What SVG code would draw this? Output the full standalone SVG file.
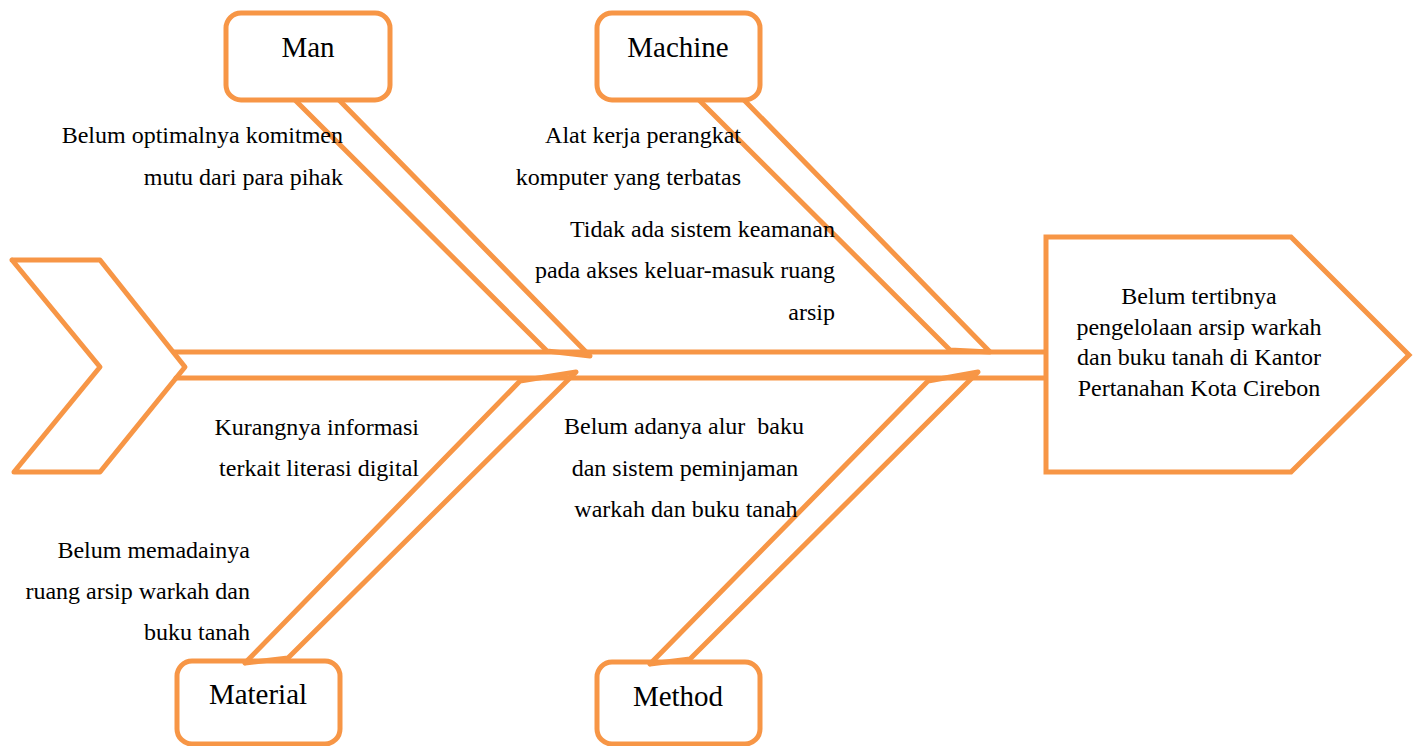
<svg xmlns="http://www.w3.org/2000/svg" width="1417" height="746" viewBox="0 0 1417 746">
<style>
.s{fill:none;stroke:#F79646;stroke-width:5;stroke-linejoin:round;stroke-linecap:round}
.b{fill:#FFFFFF;stroke:#F79646;stroke-width:5}
.t{font-family:"Liberation Serif","Times New Roman",serif;font-size:24px;fill:#000}
.l{font-family:"Liberation Serif","Times New Roman",serif;font-size:29px;fill:#000;text-anchor:middle}
.r{text-anchor:end}
.m{text-anchor:middle}
</style>
<rect width="1417" height="746" fill="#FFFFFF"/>
<g id="man">
<rect class="b" x="226" y="13" width="164" height="87" rx="15"/>
<text class="l" x="308" y="57">Man</text>
</g>
<g id="machine">
<rect class="b" x="597" y="13" width="163" height="87" rx="15"/>
<text class="l" x="678" y="57">Machine</text>
</g>
<g id="material">
<rect class="b" x="177" y="661" width="163" height="83" rx="15"/>
<text class="l" x="258" y="704">Material</text>
</g>
<g id="method">
<rect class="b" x="597" y="662" width="163" height="82" rx="15"/>
<text class="l" x="678" y="706">Method</text>
</g>
<g id="connectors">
<polyline class="s" points="12,260 100,260 185,367 100,472 14,472 100,367 12,260"/>
<line class="s" x1="174" y1="352" x2="1046" y2="352"/>
<line class="s" x1="176" y1="378" x2="1046" y2="378"/>
<polyline class="s" points="296,101 547,351 590,356 340,101"/>
<polyline class="s" points="700,101 950,350 990,352 745,101"/>
<polyline class="s" points="245,663 520,381 576,372 288,658 245,663"/>
<polyline class="s" points="650,664 928,381 978,372 690,659 650,664"/>
</g>
<g id="head">
<polygon class="b" points="1046,237 1291,237 1409,355 1291,472 1046,472"/>
<text class="t m" x="1199" y="304">Belum tertibnya</text>
<text class="t m" x="1199" y="335">pengelolaan arsip warkah</text>
<text class="t m" x="1199" y="365">dan buku tanah di Kantor</text>
<text class="t m" x="1199" y="396">Pertanahan Kota Cirebon</text>
</g>
<g id="causes">
<text class="t r" x="343" y="143">Belum optimalnya komitmen</text>
<text class="t r" x="343" y="185">mutu dari para pihak</text>
<text class="t r" x="741" y="143">Alat kerja perangkat</text>
<text class="t r" x="741" y="185">komputer yang terbatas</text>
<text class="t r" x="835" y="237">Tidak ada sistem keamanan</text>
<text class="t r" x="835" y="278">pada akses keluar-masuk ruang</text>
<text class="t r" x="835" y="320">arsip</text>
<text class="t r" x="419" y="435">Kurangnya informasi</text>
<text class="t r" x="419" y="476">terkait literasi digital</text>
<text class="t m" x="684" y="434" xml:space="preserve">Belum adanya alur  baku</text>
<text class="t m" x="685" y="476">dan sistem peminjaman</text>
<text class="t m" x="686" y="517">warkah dan buku tanah</text>
<text class="t r" x="250" y="558">Belum memadainya</text>
<text class="t r" x="250" y="599">ruang arsip warkah dan</text>
<text class="t r" x="250" y="640">buku tanah</text>
</g>
</svg>
